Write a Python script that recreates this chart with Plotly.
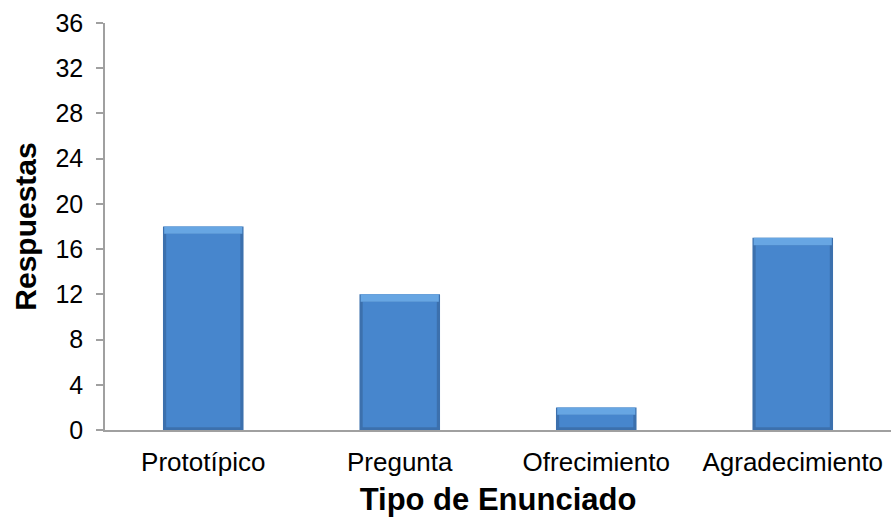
import plotly.graph_objects as go

# Response counts per utterance type
categories = ["Prototípico", "Pregunta", "Ofrecimiento", "Agradecimiento"]
respuestas = [18, 12, 2, 17]
y_ticks = [0, 4, 8, 12, 16, 20, 24, 28, 32, 36]

FONT = "Liberation Sans, Arial, sans-serif"
BAR_W = 0.41
BEVEL = 0.65  # depth of the lighter top facet, in data units

fig = go.Figure()

# dark outer body (gives the bevelled edges)
fig.add_trace(go.Bar(
    x=categories, y=respuestas, width=BAR_W,
    marker=dict(color="#3c70ad", line=dict(width=0)),
    hoverinfo="x+y", showlegend=False,
))
# main face
fig.add_trace(go.Bar(
    x=categories, y=[v - BEVEL - 0.25 for v in respuestas], base=[0.25] * len(respuestas),
    width=BAR_W * 0.92,
    marker=dict(color="#4786cd", line=dict(width=0)),
    hoverinfo="skip", showlegend=False,
))
# top highlight facet
fig.add_trace(go.Bar(
    x=categories, y=[BEVEL] * len(respuestas), base=[v - BEVEL for v in respuestas],
    width=BAR_W * 0.97,
    marker=dict(color="#67a6e3", line=dict(width=0)),
    hoverinfo="skip", showlegend=False,
))

fig.update_layout(
    width=891, height=523,
    margin=dict(l=105, r=0, t=23, b=93),
    paper_bgcolor="white", plot_bgcolor="white",
    barmode="overlay",
    font=dict(family=FONT, color="black"),
    xaxis=dict(
        type="category",
        showline=True, linecolor="#a0a0a0", linewidth=1.5,
        ticks="", showgrid=False,
        tickfont=dict(size=26, family=FONT),
        ticklabelstandoff=8,
        title=dict(text="<b>Tipo de Enunciado</b>", font=dict(size=31, family=FONT), standoff=12),
    ),
    yaxis=dict(
        range=[0, 36], tickvals=y_ticks,
        showline=True, linecolor="#a0a0a0", linewidth=1.5,
        ticks="outside", ticklen=7, tickcolor="#a0a0a0", tickwidth=1.5,
        showgrid=False, zeroline=False,
        tickfont=dict(size=25, family=FONT),
        ticklabelstandoff=8,
        title=dict(text="<b>Respuestas</b>", font=dict(size=30, family=FONT), standoff=10),
    ),
)

fig.write_html("out.html")
